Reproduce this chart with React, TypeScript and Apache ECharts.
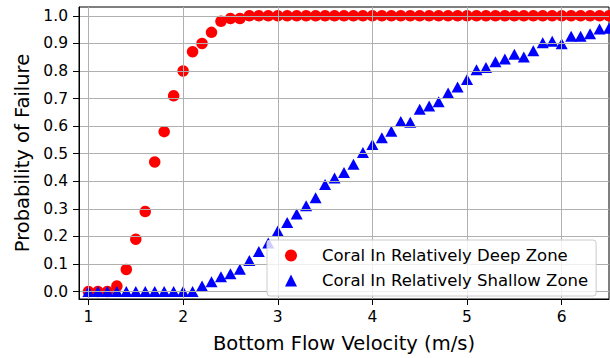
import React, { useEffect, useRef } from "react";
import * as echarts from "echarts";

const velocities = [
  1.0, 1.1, 1.2, 1.3, 1.4, 1.5, 1.6, 1.7, 1.8, 1.9,
  2.0, 2.1, 2.2, 2.3, 2.4, 2.5, 2.6, 2.7, 2.8, 2.9,
  3.0, 3.1, 3.2, 3.3, 3.4, 3.5, 3.6, 3.7, 3.8, 3.9,
  4.0, 4.1, 4.2, 4.3, 4.4, 4.5, 4.6, 4.7, 4.8, 4.9,
  5.0, 5.1, 5.2, 5.3, 5.4, 5.5, 5.6, 5.7, 5.8, 5.9,
  6.0, 6.1, 6.2, 6.3, 6.4, 6.5,
];

const deepZone = [
  0.0, 0.0, 0.0, 0.02, 0.08, 0.19, 0.29, 0.47, 0.58, 0.71,
  0.8, 0.87, 0.9, 0.94, 0.98, 0.99, 0.99, 1.0, 1.0, 1.0,
  1.0, 1.0, 1.0, 1.0, 1.0, 1.0, 1.0, 1.0, 1.0, 1.0,
  1.0, 1.0, 1.0, 1.0, 1.0, 1.0, 1.0, 1.0, 1.0, 1.0,
  1.0, 1.0, 1.0, 1.0, 1.0, 1.0, 1.0, 1.0, 1.0, 1.0,
  1.0, 1.0, 1.0, 1.0, 1.0, 1.0,
];

const shallowZone = [
  0.0, 0.0, 0.0, 0.0, 0.0, 0.0, 0.0, 0.0, 0.0, 0.0,
  0.0, 0.0, 0.02, 0.036, 0.054, 0.065, 0.081, 0.113, 0.145, 0.176,
  0.22, 0.25, 0.281, 0.311, 0.34, 0.388, 0.412, 0.432, 0.462, 0.504,
  0.533, 0.558, 0.581, 0.617, 0.614, 0.661, 0.673, 0.688, 0.72, 0.742,
  0.769, 0.804, 0.813, 0.833, 0.843, 0.861, 0.851, 0.873, 0.902, 0.908,
  0.899, 0.926, 0.926, 0.935, 0.952, 0.955,
];

const xTicks = [1, 2, 3, 4, 5, 6];
const yTicks = [0, 0.1, 0.2, 0.3, 0.4, 0.5, 0.6, 0.7, 0.8, 0.9, 1.0];

const seriesNames = ["Coral In Relatively Deep Zone", "Coral In Relatively Shallow Zone"];

const FONT = "DejaVu Sans";

export default function App() {
  const ref = useRef<HTMLDivElement>(null);

  useEffect(() => {
    if (!ref.current) return;
    const chart = echarts.init(ref.current, undefined, { renderer: "svg" });
    const deepData = velocities.map((v, i) => [v, deepZone[i]]);
    const shallowData = velocities.map((v, i) => [v, shallowZone[i]]);

    chart.setOption({
      animation: false,
      backgroundColor: "#ffffff",
      grid: {
        left: 79,
        right: 1,
        top: 7,
        bottom: 55,
        show: true,
        borderColor: "#000000",
        borderWidth: 1,
        backgroundColor: "transparent",
      },
      legend: {
        left: 267,
        top: 240,
        orient: "vertical",
        padding: [7, 8, 7, 18],
        itemGap: 8,
        itemWidth: 12,
        itemHeight: 12,
        backgroundColor: "rgba(255,255,255,0.8)",
        borderColor: "#cccccc",
        borderWidth: 1,
        borderRadius: 3,
        z: 10,
        textStyle: {
          fontFamily: FONT,
          fontSize: 16.5,
          color: "#000000",
          lineHeight: 17,
          padding: [0, 0, 0, 20],
        },
        data: [
          { name: seriesNames[0], icon: "circle" },
          { name: seriesNames[1], icon: "triangle" },
        ],
      },
      xAxis: {
        type: "value",
        min: 0.9,
        max: 6.5,
        z: 3,
        name: "Bottom Flow Velocity (m/s)",
        nameLocation: "middle",
        nameGap: 34,
        nameTextStyle: { fontFamily: FONT, fontSize: 19.5, color: "#000000" },
        axisLine: { show: true, onZero: false, lineStyle: { color: "#000000", width: 1 } },
        axisTick: {
          show: true,
          length: 6,
          customValues: xTicks,
          lineStyle: { color: "#000000", width: 1 },
        },
        axisLabel: {
          customValues: xTicks,
          margin: 10,
          fontFamily: FONT,
          fontSize: 15.5,
          color: "#000000",
          formatter: (v: number) => String(Math.round(v)),
        },
        splitLine: { show: true, lineStyle: { color: "#b0b0b0", width: 1 } },
      },
      yAxis: {
        type: "value",
        min: -0.027,
        max: 1.032,
        z: 3,
        name: "Probability of Failure",
        nameLocation: "middle",
        nameGap: 38,
        nameTextStyle: { fontFamily: FONT, fontSize: 19.5, color: "#000000" },
        axisLine: { show: true, onZero: false, lineStyle: { color: "#000000", width: 1 } },
        axisTick: {
          show: true,
          length: 6,
          customValues: yTicks,
          lineStyle: { color: "#000000", width: 1 },
        },
        axisLabel: {
          customValues: yTicks,
          margin: 11,
          fontFamily: FONT,
          fontSize: 15.5,
          color: "#000000",
          formatter: (v: number) => v.toFixed(1),
        },
        splitLine: { show: true, lineStyle: { color: "#b0b0b0", width: 1 } },
      },
      series: [
        {
          name: seriesNames[0],
          type: "scatter",
          data: deepData,
          symbol: "circle",
          symbolSize: 11.5,
          itemStyle: { color: "#ff0000", opacity: 1 },
          z: 1,
          clip: true,
        },
        {
          name: seriesNames[1],
          type: "scatter",
          data: shallowData,
          symbol: "triangle",
          symbolSize: [12, 11],
          itemStyle: { color: "#0000ff", opacity: 1 },
          z: 2,
          clip: true,
        },
      ],
    });

    return () => chart.dispose();
  }, []);

  return (
    <div
      ref={ref}
      style={{ position: "absolute", left: 0, top: 0, width: 610, height: 358 }}
    />
  );
}
